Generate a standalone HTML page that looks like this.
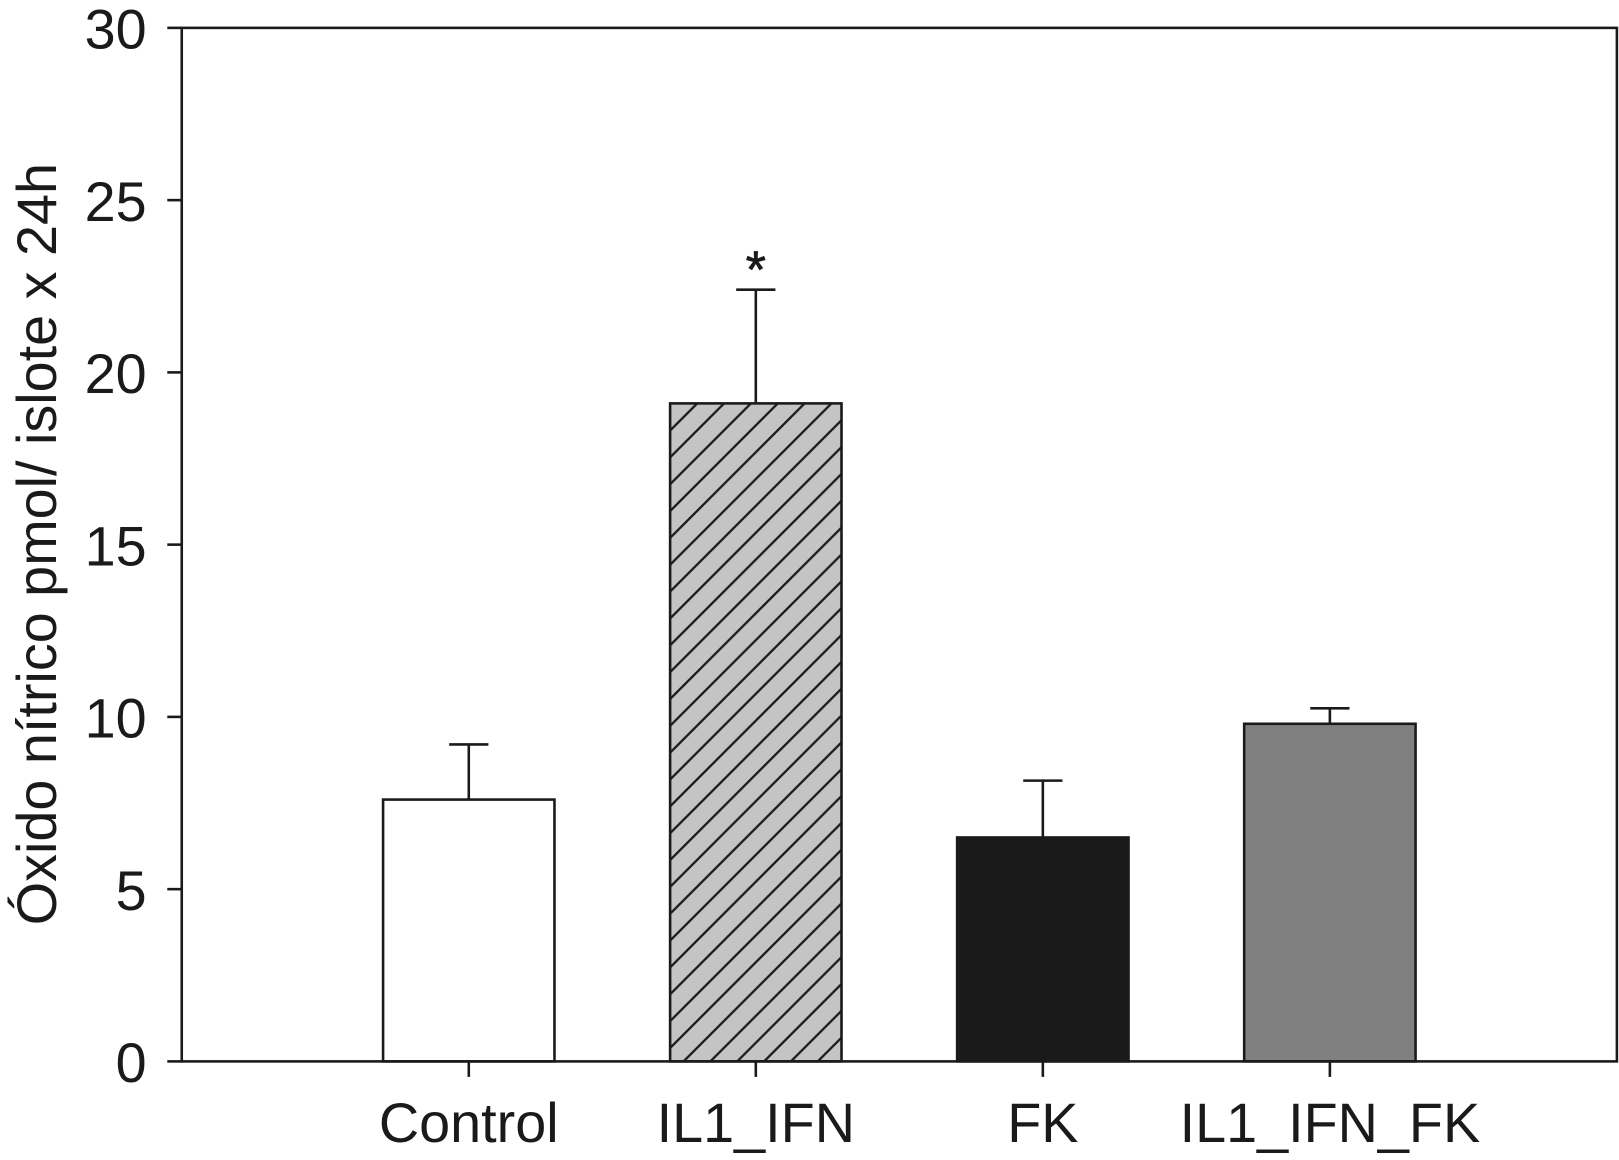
<!DOCTYPE html>
<html><head><meta charset="utf-8"><style>
html,body{margin:0;padding:0;background:#fff}
svg{display:block;font-family:"Liberation Sans",Arial,sans-serif}
</style></head><body>
<svg id="chart" width="1619" height="1160" viewBox="0 0 1568 1123.5" xmlns="http://www.w3.org/2000/svg">
<defs>
<pattern id="hatch" patternUnits="userSpaceOnUse" width="26" height="26">
<rect width="26" height="26" fill="#c4c4c4"/>
<path d="M-6.5,6.5 L6.5,-6.5 M0,26 L26,0 M19.5,32.5 L32.5,19.5" stroke="#1a1a1a" stroke-width="2.2"/>
</pattern>
</defs>
<g id="plot"></g>
</svg>
<script>
const categories = ["Control", "IL1_IFN", "FK", "IL1_IFN_FK"];
const values = [7.6, 19.1, 6.5, 9.8];
const errors = [1.6, 3.3, 1.65, 0.45];
const fills = ["#ffffff", "url(#hatch)", "#1a1a1a", "#808080"];
const yTicks = [0, 5, 10, 15, 20, 25, 30];
const sig = [false, true, false, false];

const L = 176, R = 1566, T = 27, B = 1028;
const yMax = 30;
const y = v => B - (v / yMax) * (B - T);
const band = (R - L) / (categories.length + 1);
const x = i => L + band * (i + 1);
const barW = 166, capW = 38;
const ns = "http://www.w3.org/2000/svg";
const g = document.getElementById("plot");
function mk(tag, attrs, parent) {
  const e = document.createElementNS(ns, tag);
  for (const k in attrs) e.setAttribute(k, attrs[k]);
  (parent || g).appendChild(e);
  return e;
}
categories.forEach((c, i) => {
  const cx = x(i);
  const eb = mk("g", {});
  
  
  mk("line", {x1: cx, x2: cx, y1: y(values[i]), y2: y(values[i] + errors[i]), stroke: "#1a1a1a", "stroke-width": 2.5}, eb);
  mk("line", {x1: cx - capW / 2, x2: cx + capW / 2, y1: y(values[i] + errors[i]), y2: y(values[i] + errors[i]), stroke: "#1a1a1a", "stroke-width": 2.5}, eb);
  const r = mk("rect", {x: cx - barW / 2, y: y(values[i]), width: barW, height: B - y(values[i]), fill: fills[i], stroke: "#1a1a1a", "stroke-width": 2.5});
  
  
  if (sig[i]) {
    const s = mk("text", {x: cx, y: y(values[i] + errors[i]) - 2, "text-anchor": "middle", "font-size": 50, fill: "#1a1a1a", stroke: "#1a1a1a", "stroke-width": 0.8});
    s.textContent = "*";
    
    
  }
  const tk = mk("line", {x1: cx, x2: cx, y1: B, y2: B + 15, stroke: "#1a1a1a", "stroke-width": 2.5});
  
  
  const t = mk("text", {x: cx, y: 1106, "text-anchor": "middle", "font-size": 54, fill: "#1a1a1a"});
  t.textContent = c;
  
  
});
yTicks.forEach(v => {
  const tk = mk("line", {x1: L - 14, x2: L, y1: y(v), y2: y(v), stroke: "#1a1a1a", "stroke-width": 2.5});
  
  
  const t = mk("text", {x: 142, y: y(v) + 20, "text-anchor": "end", "font-size": 54, fill: "#1a1a1a"});
  t.textContent = v;
  
  
});
const frame = mk("rect", {x: L, y: T, width: R - L, height: B - T, fill: "none", stroke: "#1a1a1a", "stroke-width": 2.5});


const yl = mk("text", {x: 0, y: 0, transform: "translate(54,527) rotate(-90)", "text-anchor": "middle", "font-size": 54, fill: "#1a1a1a"});
yl.textContent = "Óxido nítrico pmol/ islote x 24h";


</script>
</body></html>
